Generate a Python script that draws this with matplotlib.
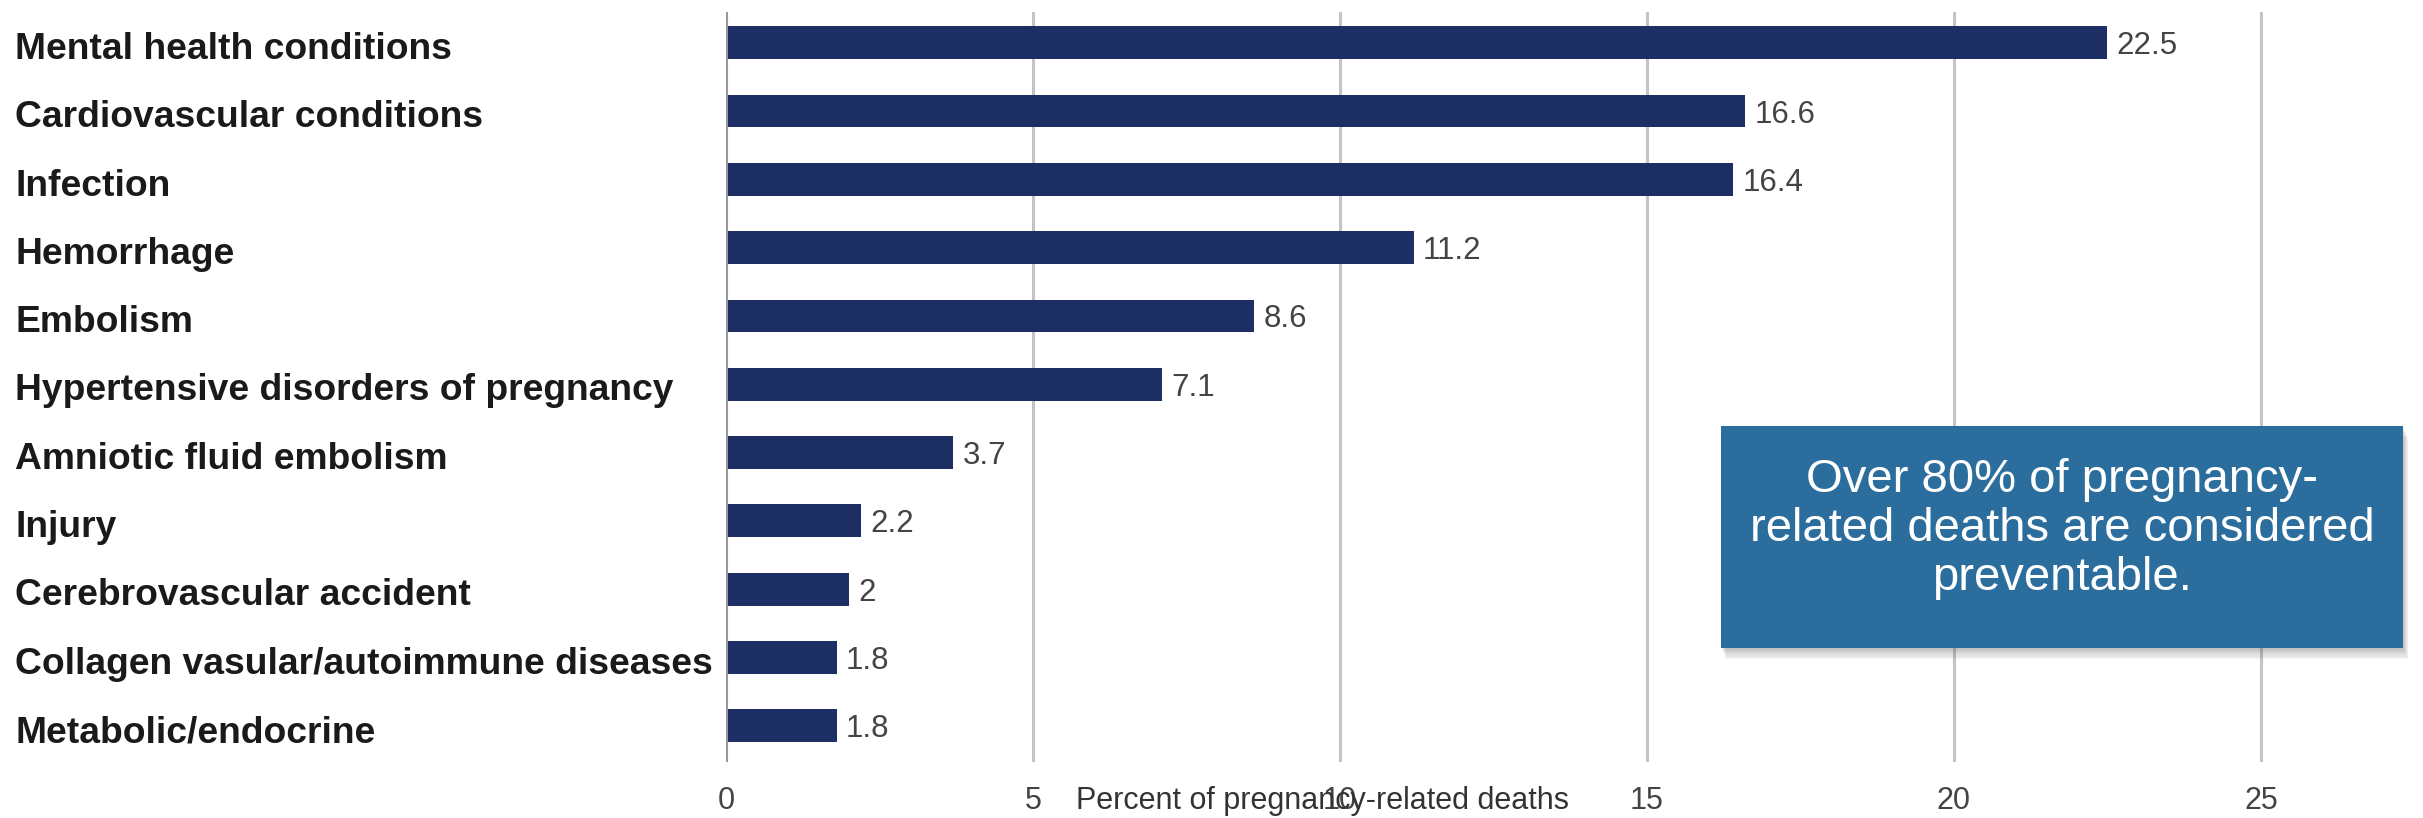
import matplotlib
matplotlib.use('Agg')
import matplotlib.pyplot as plt
import matplotlib.patches as mpatches
import matplotlib.transforms as mtransforms

# Causas de morte relacionadas à gravidez (%)
categories = ['Mental health conditions', 'Cardiovascular conditions', 'Infection',
              'Hemorrhage', 'Embolism', 'Hypertensive disorders of pregnancy',
              'Amniotic fluid embolism', 'Injury', 'Cerebrovascular accident',
              'Collagen vasular/autoimmune diseases', 'Metabolic/endocrine']
values = [22.5, 16.6, 16.4, 11.2, 8.6, 7.1, 3.7, 2.2, 2, 1.8, 1.8]
value_labels = ['22.5', '16.6', '16.4', '11.2', '8.6', '7.1', '3.7', '2.2', '2', '1.8', '1.8']
xticks = [0, 5, 10, 15, 20, 25]

plt.rcParams['font.family'] = ['Liberation Sans', 'DejaVu Sans']

W, H = 2423, 818
fig = plt.figure(figsize=(W / 100, H / 100), dpi=100)

x0_px, px_per_unit = 726, 61.4
ax = fig.add_axes([x0_px / W, (H - 762) / H, (W - x0_px) / W, (762 - 12) / H])

pos = list(range(len(categories)))
ax.barh(pos, values, height=0.48, color='#1d2e65', zorder=3)
ax.set_ylim(len(categories) - 0.5 + 0.03, -0.45)
ax.set_xlim(0, (W - x0_px) / px_per_unit)

for p, v, lab in zip(pos, values, value_labels):
    ax.text(v + 0.15, p, lab, va='center_baseline', ha='left', fontsize=22.5, color='#444444')

# rótulos das categorias alinhados à esquerda
trans = mtransforms.blended_transform_factory(fig.transFigure, ax.transData)
for p, c in zip(pos, categories):
    ax.text(15 / W, p + 0.04, c, transform=trans, va='center_baseline', ha='left',
            fontsize=26.8, fontweight='bold', color='#1a1a1a')

ax.set_yticks([])
ax.set_xticks(xticks)
ax.set_xticklabels([str(t) for t in xticks], fontsize=22, color='#444444')
ax.tick_params(axis='x', length=0, pad=17)
for s in ax.spines.values():
    s.set_visible(False)
ax.grid(axis='x', color='#c4c4c4', linewidth=2.2, zorder=0)
ax.axvline(0, color='#9a9a9a', linewidth=2.2, zorder=4)

fig.text(1323 / W, (H - 801) / H, 'Percent of pregnancy-related deaths',
         ha='center', va='center', fontsize=22, color='#333333')

# caixa de destaque com sombra
bx0, bx1, by0, by1 = 1721, 2403, 426, 648
for i in range(5):
    off = 2 + i * 2.2
    sh = mpatches.Rectangle(((bx0 + off * 0.5) / W, (H - by1 - off) / H),
                            (bx1 - bx0) / W, (by1 - by0) / H,
                            transform=fig.transFigure, color='#555555', alpha=0.08,
                            linewidth=0, zorder=5)
    fig.patches.append(sh)
box = mpatches.Rectangle((bx0 / W, (H - by1) / H), (bx1 - bx0) / W, (by1 - by0) / H,
                         transform=fig.transFigure, color='#2b6e9e', linewidth=0, zorder=6)
fig.patches.append(box)
fig.text((bx0 + bx1) / 2 / W, (H - 529) / H,
         'Over 80% of pregnancy-\nrelated deaths are considered\npreventable.',
         ha='center', va='center', fontsize=34, color='white', linespacing=1.15, zorder=7)

fig.savefig('out.png', dpi=100)
